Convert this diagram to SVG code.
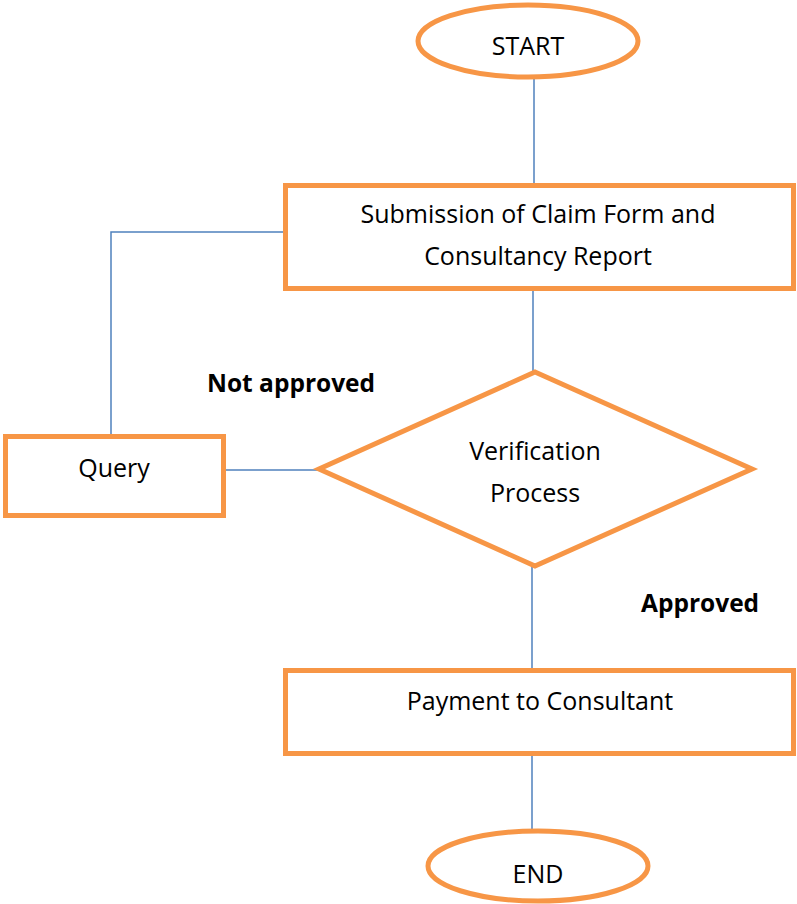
<svg xmlns="http://www.w3.org/2000/svg" width="797" height="904" viewBox="0 0 797 904">
<style>
.shape{fill:#ffffff;stroke:#F79646;stroke-width:5}
.conn{fill:none;stroke:#4F81BD;stroke-width:1.5}
.t{font-family:"Open Sans","Noto Sans","Liberation Sans",sans-serif;font-size:25px;fill:#000;text-anchor:middle}
.b{font-family:"Open Sans","Noto Sans","Liberation Sans",sans-serif;font-size:24.5px;font-weight:bold;fill:#000}
</style>
<rect width="797" height="904" fill="#ffffff"/>
<g id="connectors">
<line class="conn" x1="534" y1="79" x2="534" y2="184"/>
<polyline class="conn" points="285,232 111,232 111,435"/>
<line class="conn" x1="533" y1="289" x2="533" y2="372"/>
<line class="conn" x1="224" y1="470" x2="320" y2="470"/>
<line class="conn" x1="532" y1="566" x2="532" y2="669"/>
<line class="conn" x1="532" y1="755" x2="532" y2="831"/>
</g>
<g id="start">
<ellipse class="shape" cx="528" cy="41" rx="110" ry="36" stroke-width="4.5"/>
<text class="t" x="528" y="55">START</text>
</g>
<g id="submission">
<rect class="shape" x="285.5" y="185.5" width="508" height="103"/>
<text class="t" x="538" y="223">Submission of Claim Form and</text>
<text class="t" x="538" y="265">Consultancy Report</text>
</g>
<g id="verification">
<polygon class="shape" points="535,372 752,469 535,566 319,469"/>
<text class="t" x="535" y="460">Verification</text>
<text class="t" x="535" y="502">Process</text>
</g>
<g id="query">
<rect class="shape" x="5.5" y="436.5" width="218" height="79"/>
<text class="t" x="114" y="477">Query</text>
</g>
<g id="payment">
<rect class="shape" x="285.5" y="670.5" width="508" height="83"/>
<text class="t" x="540" y="710">Payment to Consultant</text>
</g>
<g id="end">
<ellipse class="shape" cx="538" cy="866" rx="110" ry="35" stroke-width="4.5"/>
<text class="t" x="538" y="883">END</text>
</g>
<g id="labels">
<text class="b" x="207" y="392">Not approved</text>
<text class="b" x="641" y="612">Approved</text>
</g>
</svg>
